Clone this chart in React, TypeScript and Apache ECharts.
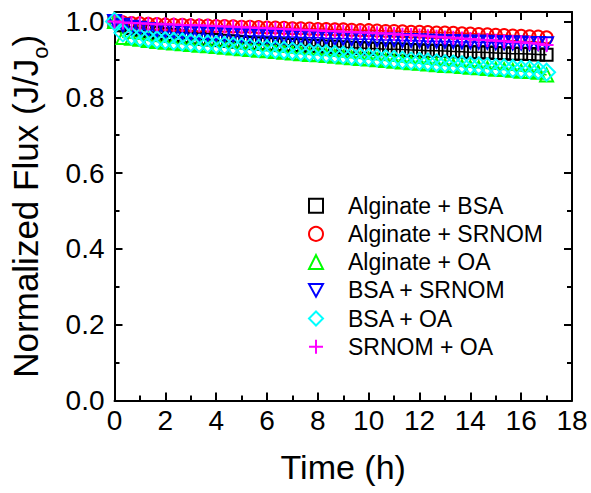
import React, { useEffect, useRef } from "react";
import * as echarts from "echarts";

const timeH = [0, 0.33, 0.67, 1, 1.33, 1.67, 2, 2.33, 2.67, 3, 3.33, 3.67, 4, 4.33, 4.67, 5, 5.33, 5.67, 6, 6.33, 6.67, 7, 7.33, 7.67, 8, 8.33, 8.67, 9, 9.33, 9.67, 10, 10.33, 10.67, 11, 11.33, 11.67, 12, 12.33, 12.67, 13, 13.33, 13.67, 14, 14.33, 14.67, 15, 15.33, 15.67, 16, 16.33, 16.67, 17];

const alginateBSA = [1.000, 0.990, 0.983, 0.978, 0.974, 0.970, 0.967, 0.964, 0.961, 0.958, 0.955, 0.953, 0.951, 0.949, 0.947, 0.945, 0.943, 0.942, 0.941, 0.940, 0.939, 0.938, 0.937, 0.936, 0.935, 0.934, 0.933, 0.932, 0.931, 0.930, 0.929, 0.928, 0.927, 0.927, 0.926, 0.925, 0.924, 0.923, 0.923, 0.922, 0.921, 0.920, 0.919, 0.919, 0.918, 0.917, 0.916, 0.915, 0.915, 0.914, 0.913, 0.912];
const alginateSRNOM = [1.000, 0.998, 0.996, 0.995, 0.994, 0.993, 0.992, 0.991, 0.991, 0.990, 0.989, 0.989, 0.988, 0.988, 0.987, 0.986, 0.986, 0.985, 0.984, 0.984, 0.983, 0.982, 0.982, 0.981, 0.980, 0.980, 0.979, 0.979, 0.978, 0.977, 0.977, 0.976, 0.975, 0.975, 0.974, 0.973, 0.973, 0.972, 0.971, 0.971, 0.970, 0.969, 0.968, 0.967, 0.966, 0.965, 0.964, 0.963, 0.962, 0.961, 0.960, 0.958];
const alginateOA = [1.000, 0.958, 0.956, 0.953, 0.950, 0.947, 0.945, 0.943, 0.941, 0.939, 0.937, 0.936, 0.934, 0.932, 0.930, 0.928, 0.926, 0.924, 0.923, 0.921, 0.919, 0.917, 0.915, 0.913, 0.912, 0.910, 0.908, 0.906, 0.904, 0.902, 0.901, 0.899, 0.897, 0.895, 0.893, 0.891, 0.890, 0.888, 0.886, 0.884, 0.883, 0.881, 0.879, 0.878, 0.876, 0.874, 0.873, 0.871, 0.869, 0.868, 0.866, 0.859];
const bsaSRNOM = [1.000, 0.990, 0.985, 0.982, 0.979, 0.977, 0.975, 0.973, 0.971, 0.969, 0.968, 0.967, 0.966, 0.965, 0.964, 0.963, 0.962, 0.962, 0.961, 0.960, 0.959, 0.959, 0.958, 0.957, 0.957, 0.956, 0.955, 0.955, 0.954, 0.953, 0.953, 0.952, 0.951, 0.951, 0.950, 0.950, 0.949, 0.948, 0.948, 0.947, 0.947, 0.946, 0.946, 0.945, 0.945, 0.944, 0.944, 0.943, 0.943, 0.942, 0.942, 0.941];
const bsaOA = [1.000, 0.970, 0.962, 0.958, 0.955, 0.952, 0.950, 0.948, 0.946, 0.944, 0.942, 0.941, 0.939, 0.937, 0.935, 0.933, 0.931, 0.929, 0.928, 0.926, 0.924, 0.922, 0.920, 0.918, 0.917, 0.915, 0.913, 0.911, 0.909, 0.907, 0.906, 0.904, 0.902, 0.900, 0.898, 0.896, 0.895, 0.893, 0.891, 0.889, 0.888, 0.886, 0.884, 0.883, 0.881, 0.879, 0.878, 0.876, 0.874, 0.873, 0.871, 0.866];
const srnomOA = [1.000, 0.997, 0.996, 0.995, 0.994, 0.993, 0.993, 0.992, 0.991, 0.990, 0.990, 0.989, 0.988, 0.987, 0.986, 0.985, 0.984, 0.983, 0.982, 0.981, 0.980, 0.979, 0.978, 0.977, 0.976, 0.975, 0.974, 0.973, 0.972, 0.971, 0.970, 0.969, 0.968, 0.967, 0.965, 0.964, 0.963, 0.961, 0.960, 0.958, 0.957, 0.955, 0.954, 0.952, 0.951, 0.949, 0.948, 0.946, 0.945, 0.943, 0.941, 0.938];

const seriesNames = ["Alginate + BSA", "Alginate + SRNOM", "Alginate + OA", "BSA + SRNOM", "BSA + OA", "SRNOM + OA"];
const seriesValues = [alginateBSA, alginateSRNOM, alginateOA, bsaSRNOM, bsaOA, srnomOA];
const seriesColors = ["#000000", "#ff0000", "#00ff00", "#0000ff", "#00ffff", "#ff00ff"];
const seriesSymbols = ["rect", "circle", "triangle", "path://M0,0L12,0L6,11Z", "diamond", "path://M6,0L6,12M0,6L12,6"];
const seriesSymbolSizes = [12, 12, 13, 13, 17, 14];

const FONT = "Liberation Sans, Arial, sans-serif";

function axisCommon(extra: any) {
  return {
    type: "value",
    axisLine: { show: true, onZero: false, lineStyle: { color: "#000", width: 2 } },
    axisTick: { show: true, inside: true, length: 8, lineStyle: { color: "#000", width: 2 } },
    minorTick: { show: true, splitNumber: 2, length: 5, lineStyle: { color: "#000", width: 2 } },
    splitLine: { show: false },
    ...extra,
  };
}

export default function App() {
  const ref = useRef<HTMLDivElement>(null);
  useEffect(() => {
    if (!ref.current) return;
    const chart = echarts.init(ref.current, null, { renderer: "svg" });
    const xBase = { min: 0, max: 18, interval: 2 };
    const yBase = { min: 0, max: 1.025, interval: 0.2 };
    chart.setOption({
      animation: false,
      grid: { left: 112, right: 19, top: 12, bottom: 92.5, containLabel: false },
      xAxis: [
        axisCommon({
          ...xBase,
          position: "bottom",
          axisLabel: { color: "#000", fontSize: 28, fontFamily: FONT, margin: 6 },
          name: "Time (h)",
          nameLocation: "middle",
          nameGap: 49,
          nameTextStyle: { color: "#000", fontSize: 34, fontFamily: FONT },
        }),
        axisCommon({ ...xBase, position: "top", axisLabel: { show: false } }),
      ],
      yAxis: [
        axisCommon({
          ...yBase,
          position: "left",
          axisLabel: {
            color: "#000",
            fontSize: 28,
            fontFamily: FONT,
            margin: 10,
            showMaxLabel: false,
            formatter: (v: number) => v.toFixed(1),
          },
          name: "{a|Normalized Flux (J/J}{b|o}{a|)}",
          nameLocation: "middle",
          nameRotate: 90,
          nameGap: 63,
          nameTextStyle: {
            rich: {
              a: { fontSize: 35, fontFamily: FONT, color: "#000", lineHeight: 52 },
              b: { fontSize: 22, fontFamily: FONT, color: "#000", lineHeight: 22, verticalAlign: "bottom" },
            },
          },
        }),
        axisCommon({ ...yBase, position: "right", axisLabel: { show: false } }),
      ],
      legend: {
        orient: "vertical",
        left: 308,
        top: 194.2,
        padding: 0,
        itemWidth: 14,
        itemHeight: 14,
        itemGap: 5.2,
        selectedMode: false,
        textStyle: { color: "#000", fontSize: 23, fontFamily: FONT, lineHeight: 23, padding: [0, 0, 0, 20] },
        data: seriesNames.map((n, i) => ({
          name: n,
          icon: seriesSymbols[i],
          itemStyle: { color: "rgba(0,0,0,0)", borderColor: seriesColors[i], borderWidth: 2 },
        })),
      },
      series: seriesNames.map((n, i) => ({
        name: n,
        type: "line",
        xAxisIndex: 0,
        yAxisIndex: 0,
        data: timeH.map((t, k) => [t, seriesValues[i][k]]),
        symbol: seriesSymbols[i],
        symbolSize: seriesSymbolSizes[i],
        showAllSymbol: true,
        itemStyle: { color: "rgba(0,0,0,0)", borderColor: seriesColors[i], borderWidth: 2 },
        lineStyle: { color: seriesColors[i], width: 1.5 },
        emphasis: { disabled: true },
      })),
    });
    return () => chart.dispose();
  }, []);
  return <div ref={ref} style={{ width: 591, height: 493, position: "absolute", left: 0, top: 0 }} />;
}
